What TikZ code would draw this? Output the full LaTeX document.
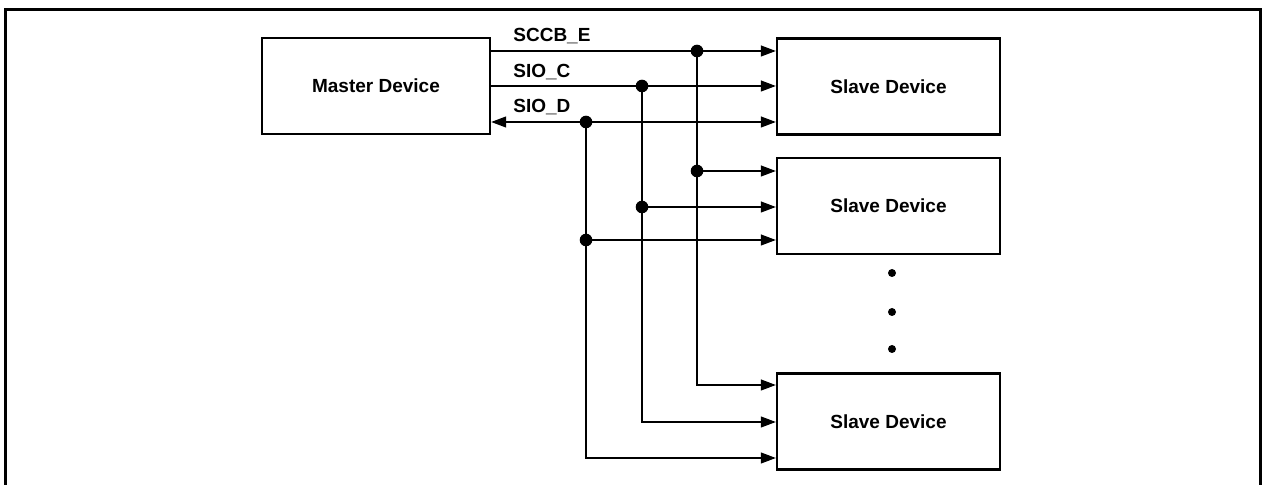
\documentclass[tikz,border=0pt]{standalone}
\usepackage{fontspec}
\setmainfont{Liberation Sans}
\usetikzlibrary{arrows.meta, positioning}
\tikzset{
  font=\fontsize{9.5}{11}\selectfont\bfseries,
  devblock/.style={
    rectangle, draw=black, line width=1.2pt,
    minimum width=111.5pt, minimum height=48pt, align=center
  },
  masterblock/.style={devblock, minimum width=114pt},
  flowline/.style={
    draw=black, -{Triangle[length=7.5pt, width=5.5pt]}, line width=0.6pt
  },
  bidirline/.style={
    draw=black, {Triangle[length=7.5pt, width=5.5pt]}-{Triangle[length=7.5pt, width=5.5pt]}, line width=0.6pt
  },
  junction/.style={circle, fill=black, inner sep=0pt, minimum size=6.3pt},
  moredot/.style={circle, fill=black, inner sep=0pt, minimum size=4pt},
  siglabel/.style={anchor=base west, inner sep=0pt},
  frameline/.style={draw=black, line width=1.5pt}
}
\begin{document}
\begin{tikzpicture}[x=0.5pt, y=-0.5pt]

  \useasboundingbox (0,0) rectangle (1262,485);
  \draw[frameline] (5.5,486) -- (5.5,10) -- (1260.5,10) -- (1260.5,486);

  % Devices
  \node[masterblock] (master) at (376,86) {Master Device};
  \node[devblock] (slave1) at (888.5,86.5) {Slave Device};
  \node[devblock] (slave2) at (888.5,206) {Slave Device};
  \node[devblock] (slave3) at (888.5,421.5) {Slave Device};

  % More slaves
  \node[moredot] (more1) at (892,273) {};
  \node[moredot] (more2) at (892,312) {};
  \node[moredot] (more3) at (892,349) {};

  % Bus taps
  \coordinate (e1) at (697,51);
  \coordinate (e2) at (697,171);
  \coordinate (e3) at (697,385);
  \coordinate (c1) at (642,86);
  \coordinate (c2) at (642,207);
  \coordinate (c3) at (642,422);
  \coordinate (d1) at (586,122);
  \coordinate (d2) at (586,240);
  \coordinate (d3) at (586,458);

  % SCCB_E
  \draw[flowline] (master.east |- e1) -- (slave1.west |- e1);
  \draw[flowline] (e2) -- (slave2.west |- e2);
  \draw[flowline] (e1) -- (e3) -- (slave3.west |- e3);

  % SIO_C
  \draw[flowline] (master.east |- c1) -- (slave1.west |- c1);
  \draw[flowline] (c2) -- (slave2.west |- c2);
  \draw[flowline] (c1) -- (c3) -- (slave3.west |- c3);

  % SIO_D
  \draw[bidirline] (master.east |- d1) -- (slave1.west |- d1);
  \draw[flowline] (d2) -- (slave2.west |- d2);
  \draw[flowline] (d1) -- (d3) -- (slave3.west |- d3);

  \foreach \j in {e1,e2,c1,c2,d1,d2}
    \node[junction] at (\j) {};

  % Signal names
  \node[siglabel] (lblE) at (513,42) {SCCB\_E};
  \node[siglabel] (lblC) at (513,78) {SIO\_C};
  \node[siglabel] (lblD) at (513,113) {SIO\_D};

\end{tikzpicture}
\end{document}
